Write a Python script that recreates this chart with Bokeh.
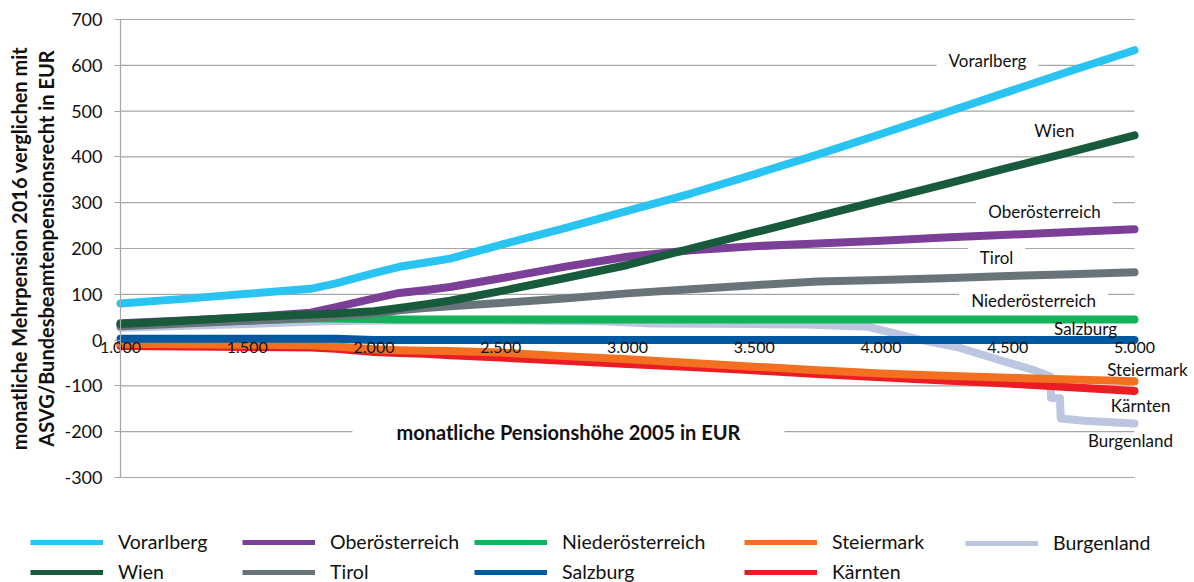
from bokeh.plotting import figure
from bokeh.models import FixedTicker, Label, Legend, LegendItem, Range1d
from bokeh.embed import file_html
from bokeh.resources import INLINE

FONT = "Lato"

# ---------------- data ----------------
pension_2005 = [1000, 1250, 1500, 1750, 1850, 2000, 2100, 2200, 2300, 2500,
                2750, 3000, 3250, 3500, 3750, 4000, 4250, 4500, 4750, 5000]

vorarlberg = [80, 90, 101, 112, 124, 146, 160, 169, 178, 208,
              244, 282, 320, 362, 405, 450, 496, 542, 588, 633]
wien = [35, 42, 50, 56, 58, 63, 70, 78, 86, 107,
        135, 164, 200, 235, 270, 305, 340, 376, 411, 447]
oberoesterreich = [37, 43, 50, 60, 72, 91, 103, 109, 116, 135,
                   160, 182, 196, 205, 211, 217, 224, 230, 236, 242]
tirol = [30, 36, 42, 48, 52, 58, 65, 70, 74, 81,
         91, 102, 111, 120, 128, 131, 135, 140, 144, 148]
niederoesterreich = [32, 38, 43, 47, 47, 46, 45, 45, 45, 45,
                     45, 45, 45, 45, 45, 45, 45, 45, 45, 45]
salzburg = [3, 3, 3, 3, 3, 0, 0, 0, 0, 0,
            0, 0, 0, 0, 0, 0, 0, 0, 0, 0]
steiermark = [-8, -9, -10, -11, -14, -20, -22, -23, -24, -27,
              -35, -42, -50, -58, -66, -73, -78, -82, -86, -90]
kaernten = [-13, -14, -15, -16, -19, -26, -28, -30, -33, -38,
            -45, -52, -59, -66, -74, -81, -88, -95, -103, -111]

burgenland_x = [1000, 1500, 1800, 2000, 2500, 2900, 3100, 3500, 3700, 3950,
                4160, 4300, 4470, 4600, 4660, 4669, 4671, 4706, 4709, 4800,
                5000]
burgenland_y = [27, 35, 41, 43, 43, 41, 36, 35, 34, 29,
                0, -15, -44, -65, -78, -80, -126, -127, -171, -176,
                -182]

names = ["Vorarlberg", "Wien", "Oberösterreich", "Tirol", "Niederösterreich",
         "Salzburg", "Steiermark", "Kärnten", "Burgenland"]
colors = ["#29C4F1", "#175A3C", "#7C3F98", "#68747A", "#13B25B",
          "#0059A0", "#F37021", "#EC1C24", "#BDC6E0"]
xs = [pension_2005] * 8 + [burgenland_x]
ys = [vorarlberg, wien, oberoesterreich, tirol, niederoesterreich,
      salzburg, steiermark, kaernten, burgenland_y]

y_ticks = [-300, -200, -100, 0, 100, 200, 300, 400, 500, 600, 700]
y_tick_labels = ["-300", "-200", "-100", "0", "100", "200", "300",
                 "400", "500", "600", "700"]
x_ticks = [1000, 1500, 2000, 2500, 3000, 3500, 4000, 4500, 5000]
x_tick_labels = ["1.000", "1.500", "2.000", "2.500", "3.000",
                 "3.500", "4.000", "4.500", "5.000"]
x_min, x_max = 1000, 5000
y_min, y_max = -300, 700

# end-of-line label placement (data coordinates) and whether they mask gridlines
label_x = [4420, 4684, 4645, 4456, 4602, 4807, 5051, 5024, 4984]
label_y = [611, 458, 281, 181, 87, 26, -65, -142, -220]
label_bg = [True, False, True, True, True, False, False, False, False]

# legend columns (screen px from the left edge) - two entries per column
legend_col_x = [30, 242, 474, 744, 965]

# ---------------- figure ----------------
# the frame covers the whole canvas; axes are pinned at x=1000 and y=0
W, H = 1194, 582
px_per_x = 0.2535          # screen px per EUR on the x axis
px_per_y = 0.458           # screen px per EUR on the y axis
x_lo = x_min - 120 / px_per_x
x_hi = x_min + (W - 120) / px_per_x
y_hi = y_max + 19 / px_per_y
y_lo = y_max - (H - 19) / px_per_y

p = figure(width=W, height=H, x_range=Range1d(x_lo, x_hi),
           y_range=Range1d(y_lo, y_hi),
           output_backend="svg", toolbar_location=None, min_border=0)
p.outline_line_color = None
p.background_fill_color = "white"
p.xgrid.visible = False
p.ygrid.visible = False

# horizontal gridlines only across 1000..5000
p.segment(x0=[x_min] * len(y_ticks), x1=[x_max] * len(y_ticks),
          y0=y_ticks, y1=y_ticks, line_color="#A6A6A6", line_width=1.2)

# y axis pinned at x = 1000
yax = p.yaxis[0]
yax.fixed_location = x_min
yax.ticker = FixedTicker(ticks=y_ticks)
yax.major_label_overrides = dict(zip(y_ticks, y_tick_labels))
yax.bounds = (y_min, y_max)
yax.axis_line_color = "#A6A6A6"
yax.axis_line_width = 1.2
yax.major_tick_line_color = "#A6A6A6"
yax.major_tick_out = 6
yax.major_tick_in = 0
yax.minor_tick_out = 0
yax.minor_tick_in = 0
yax.major_label_standoff = 12
yax.major_label_text_font = FONT
yax.major_label_text_font_size = "18px"
yax.major_label_text_color = "#111111"
yax.axis_label = "monatliche Mehrpension 2016 verglichen mit\nASVG/Bundesbeamtenpensionsrecht in EUR"
yax.axis_label_text_font = FONT
yax.axis_label_text_font_size = "20px"
yax.axis_label_text_font_style = "bold"
yax.axis_label_text_color = "#111111"
yax.axis_label_text_line_height = 1.15
yax.axis_label_standoff = 3

# x axis pinned at y = 0
xax = p.xaxis[0]
xax.fixed_location = 0
xax.ticker = FixedTicker(ticks=x_ticks)
xax.major_label_overrides = dict(zip(x_ticks, x_tick_labels))
xax.axis_line_color = None
xax.major_tick_out = 0
xax.major_tick_in = 0
xax.minor_tick_out = 0
xax.minor_tick_in = 0
xax.major_label_standoff = 2
xax.major_label_text_font = FONT
xax.major_label_text_font_size = "16px"
xax.major_label_text_color = "#111111"

# lines (drawn bottom-up: Burgenland first, Vorarlberg last)
for i in reversed(range(len(names))):
    p.line(xs[i], ys[i], line_color=colors[i], line_width=8,
           line_cap="round", line_join="round")

# series labels
for i, name in enumerate(names):
    lab = Label(x=label_x[i], y=label_y[i], text=name, text_align="center",
                text_baseline="middle", text_font=FONT, text_font_size="17px",
                text_color="#111111")
    if label_bg[i]:
        lab.background_fill_color = "white"
        lab.padding = (12, 0)
    p.add_layout(lab)

# x-axis title placed on the -200 gridline
xt = Label(x=2767, y=-200, text="monatliche Pensionshöhe 2005 in EUR",
           text_align="center", text_baseline="middle", text_font=FONT,
           text_font_size="20px", text_font_style="bold", text_color="#111111",
           background_fill_color="white", padding=(44, 0))
p.add_layout(xt)

# ---------------- legend (5 columns x 2 rows, filled column by column) ----------------
legend_renderers = []
for i, name in enumerate(names):
    # off-screen sample so the legend swatch has a vectorised visual
    r = p.line([x_lo - 100, x_lo - 50], [y_lo - 100, y_lo - 100],
               line_color=colors[i], line_width=5)
    legend_renderers.append(r)

row_pitch = 29
for c, cx in enumerate(legend_col_x):
    idx = list(range(2 * c, min(2 * c + 2, len(names))))
    items = [LegendItem(label=names[k], renderers=[legend_renderers[k]]) for k in idx]
    y_off = -1 + (2 - len(idx)) * row_pitch   # single entry sits in the top row
    lg = Legend(items=items, location=(cx, y_off), orientation="vertical",
                glyph_width=73, glyph_height=20, label_height=20,
                label_standoff=15, spacing=7,
                label_text_font=FONT, label_text_font_size="19.5px",
                label_text_color="#111111", padding=0, margin=0,
                border_line_color=None, background_fill_alpha=0)
    p.add_layout(lg, "center")

open("out.html", "w").write(file_html(p, INLINE))
